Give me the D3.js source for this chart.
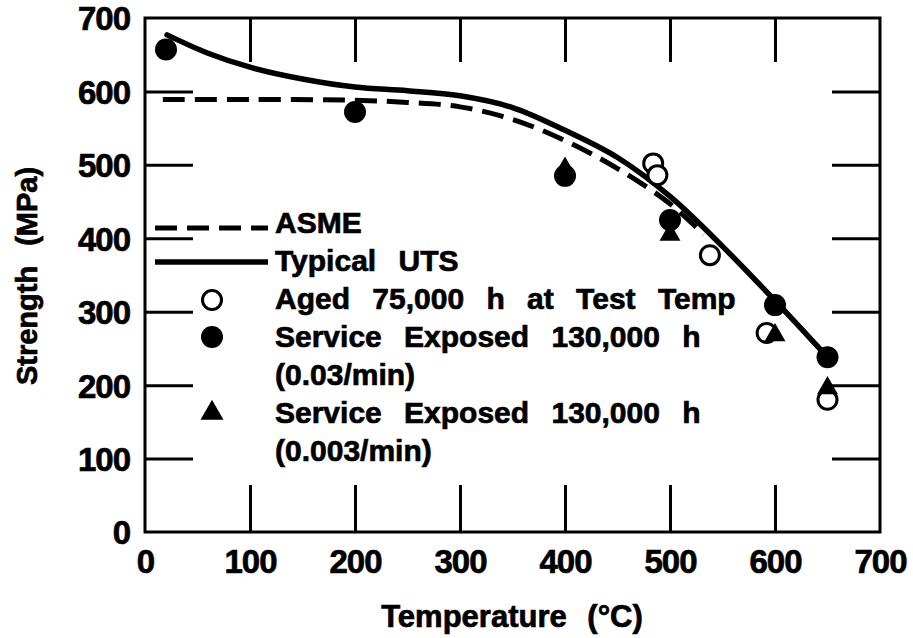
<!DOCTYPE html>
<html>
<head>
<meta charset="utf-8">
<script src="https://cdn.jsdelivr.net/npm/d3@7/dist/d3.min.js"></script>
<style>
body{margin:0;background:#fff;}
text{font-family:"Liberation Sans",Arial,sans-serif;font-weight:bold;fill:#000;stroke:#000;stroke-width:0.7px;}
</style>
</head>
<body>
<div id="chart-area"></div>
<script>
// Values
var tempTicks = [0, 100, 200, 300, 400, 500, 600, 700];
var strengthTicks = [0, 100, 200, 300, 400, 500, 600, 700];

// ASME curve
var asmeTemp = [17, 100, 200, 250, 300, 350, 400, 450, 500, 532];
var asmeStrength = [589, 589, 588, 585, 579, 562, 533, 495, 447, 405];

// Typical UTS curve
var utsTemp = [21, 60, 100, 150, 200, 250, 300, 350, 400, 450, 500, 550, 600, 650];
var utsStrength = [677, 652, 633, 617, 606, 601, 594, 578, 547, 510, 457, 389, 315, 238];

// Aged 75,000 h at test temp (open circles)
var agedTemp = [484, 488, 538, 592, 650];
var agedStrength = [502, 486, 377, 271, 180];

// Service exposed, 0.03/min (filled circles)
var fastTemp = [20, 200, 400, 500, 600, 650];
var fastStrength = [657, 572, 485, 425, 309, 238];

// Service exposed, 0.003/min (triangles)
var slowTemp = [400, 500, 600, 650];
var slowStrength = [495, 405, 268, 196];

var legendLabels = ["ASME", "Typical UTS", "Aged 75,000 h at Test Temp",
    "Service Exposed 130,000 h", "(0.03/min)", "Service Exposed 130,000 h", "(0.003/min)"];

var margin = { top: 18, right: 33, bottom: 106, left: 145 },
    width = 913 - margin.left - margin.right,
    height = 638 - margin.top - margin.bottom;

var x = d3.scaleLinear().domain([0, 700]).range([0, width]);
var y = d3.scaleLinear().domain([0, 700]).range([height, 0]);

var svg = d3.select("#chart-area").append("svg")
    .attr("width", 913)
    .attr("height", 638)
    .append("g")
    .attr("transform", "translate(" + margin.left + "," + margin.top + ")");

// Axes with inward ticks
var inner = strengthTicks.slice(1, -1);
var innerX = tempTicks.slice(1, -1);

svg.append("g").attr("class", "y axis")
    .call(d3.axisLeft(y).tickValues(strengthTicks).tickSize(-48).tickPadding(15));
svg.append("g").attr("class", "x axis")
    .attr("transform", "translate(0," + height + ")")
    .call(d3.axisBottom(x).tickValues(tempTicks).tickSize(-47).tickPadding(18));
svg.append("g").attr("class", "top axis")
    .call(d3.axisTop(x).tickValues(innerX).tickSize(-44).tickFormat(""));
svg.append("g").attr("class", "right axis")
    .attr("transform", "translate(" + width + ",0)")
    .call(d3.axisRight(y).tickValues(inner).tickSize(-48).tickFormat(""));

svg.selectAll(".axis .domain").remove();
svg.selectAll(".axis line").attr("stroke", "#000").attr("stroke-width", 3);
svg.selectAll(".y.axis .tick, .x.axis .tick")
    .filter(function (d) { return d === 0 || d === 700; })
    .select("line").remove();
svg.selectAll(".axis text")
    .attr("fill", "#000")
    .style("font-size", "33px")
    .style("letter-spacing", "-1px");
svg.selectAll(".y.axis text").attr("dy", "0.36em");
svg.selectAll(".x.axis text").attr("dy", "0.71em");

svg.append("rect")
    .attr("width", width).attr("height", height)
    .attr("fill", "none").attr("stroke", "#000").attr("stroke-width", 3);

// Axis titles
svg.append("text")
    .attr("x", 367).attr("y", 609)
    .attr("text-anchor", "middle")
    .style("font-size", "31px").style("word-spacing", "12px")
    .text("Temperature (°C)");
svg.append("text")
    .attr("transform", "translate(-108," + 258 + ") rotate(-90)")
    .attr("text-anchor", "middle")
    .style("font-size", "29px").style("word-spacing", "12px")
    .text("Strength (MPa)");

// Curves
var line = d3.line()
    .x(function (d) { return x(d[0]); })
    .y(function (d) { return y(d[1]); })
    .curve(d3.curveCatmullRom.alpha(0.5));

svg.append("path")
    .datum(d3.zip(asmeTemp, asmeStrength))
    .attr("d", line)
    .attr("fill", "none").attr("stroke", "#000")
    .attr("stroke-width", 5).attr("stroke-dasharray", "22,10");

svg.append("path")
    .datum(d3.zip(utsTemp, utsStrength))
    .attr("d", line)
    .attr("fill", "none").attr("stroke", "#000")
    .attr("stroke-width", 5.5).attr("stroke-linecap", "round");

// Markers
svg.selectAll("circle.aged")
    .data(d3.zip(agedTemp, agedStrength))
    .enter().append("circle").attr("class", "aged")
    .attr("cx", function (d) { return x(d[0]); })
    .attr("cy", function (d) { return y(d[1]); })
    .attr("r", 9.5)
    .attr("fill", "#fff").attr("stroke", "#000").attr("stroke-width", 3);

svg.selectAll("circle.fast")
    .data(d3.zip(fastTemp, fastStrength))
    .enter().append("circle").attr("class", "fast")
    .attr("cx", function (d) { return x(d[0]); })
    .attr("cy", function (d) { return y(d[1]); })
    .attr("r", 11).attr("fill", "#000");

svg.selectAll("path.slow")
    .data(d3.zip(slowTemp, slowStrength))
    .enter().append("path").attr("class", "slow")
    .attr("d", d3.symbol().type(d3.symbolTriangle).size(190))
    .attr("transform", function (d) { return "translate(" + x(d[0]) + "," + y(d[1]) + ")"; })
    .attr("fill", "#000");

// Legend
var legend = svg.append("g").attr("transform", "translate(10,0)");
legend.append("line")
    .attr("x1", 0).attr("x2", 113).attr("y1", 210).attr("y2", 210)
    .attr("stroke", "#000").attr("stroke-width", 5).attr("stroke-dasharray", "22,10");
legend.append("line")
    .attr("x1", 0).attr("x2", 113).attr("y1", 244).attr("y2", 244)
    .attr("stroke", "#000").attr("stroke-width", 5.5);
legend.append("circle")
    .attr("cx", 57).attr("cy", 282).attr("r", 9.5)
    .attr("fill", "#fff").attr("stroke", "#000").attr("stroke-width", 3);
legend.append("circle")
    .attr("cx", 57).attr("cy", 319).attr("r", 11).attr("fill", "#000");
legend.append("path")
    .attr("d", d3.symbol().type(d3.symbolTriangle).size(229))
    .attr("transform", "translate(57,395)")
    .attr("fill", "#000");

legend.selectAll("text.lbl")
    .data(legendLabels)
    .enter().append("text").attr("class", "lbl")
    .attr("x", 120)
    .attr("y", function (d, i) { return 215 + i * 38; })
    .style("font-size", "30px").style("word-spacing", "14px")
    .text(function (d) { return d; });
</script>
</body>
</html>
